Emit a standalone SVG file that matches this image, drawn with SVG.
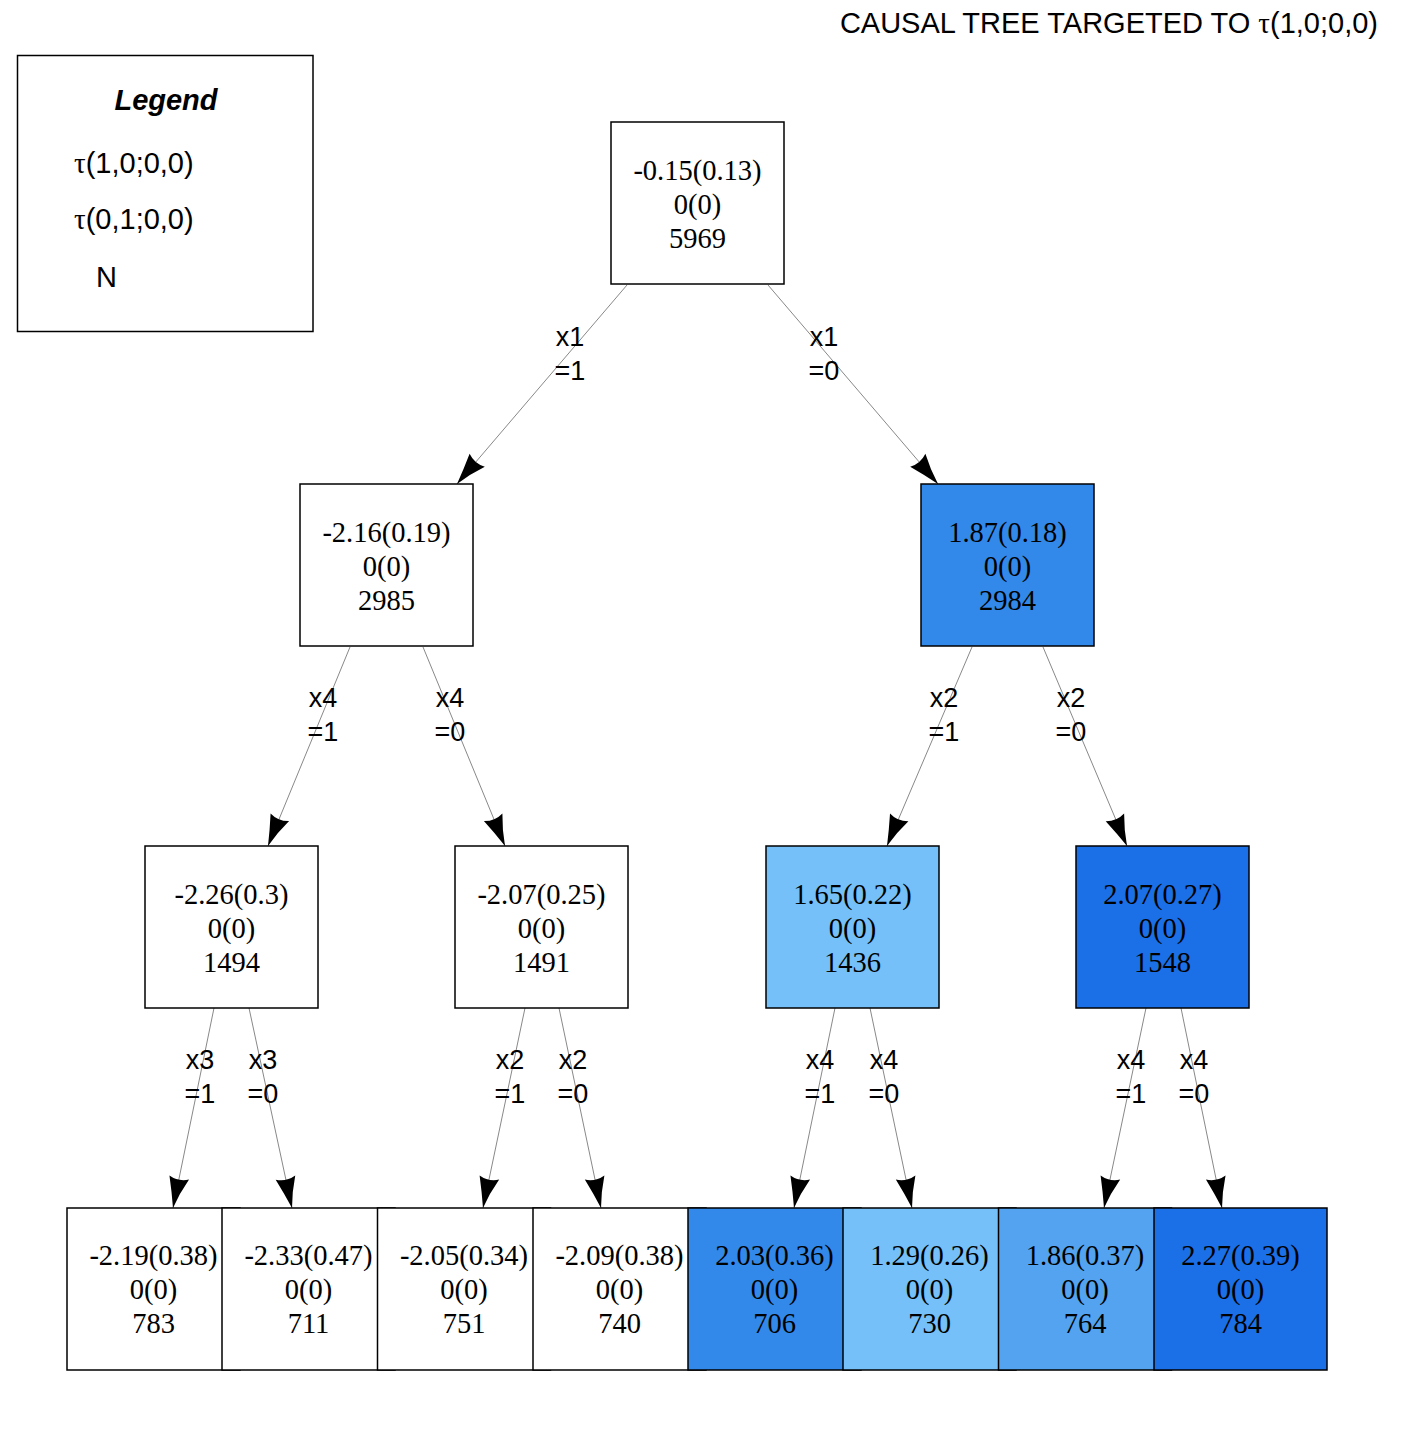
<svg xmlns="http://www.w3.org/2000/svg" width="1402" height="1445" viewBox="0 0 1402 1445">
  <style>
    .box { stroke: #000; stroke-width: 1.5; }
    .w { fill: #ffffff; }
    .b1 { fill: #3289ea; }
    .b2 { fill: #75c0f8; }
    .b3 { fill: #1b6fe7; }
    .b4 { fill: #53a3f0; }
    .nt { font-family: "Liberation Serif", "Times New Roman", serif; font-size: 28.5px; fill: #000; text-anchor: middle; }
    .el { font-family: "Liberation Sans", Arial, sans-serif; font-size: 27px; fill: #000; text-anchor: middle; }
    .edge { stroke: #7a7a7a; stroke-width: 0.9; fill: none; marker-end: url(#arr); }
    .sans { font-family: "Liberation Sans", Arial, sans-serif; font-size: 29px; fill: #000; }
    .tau { font-family: "Liberation Serif", "Times New Roman", serif; }
  </style>
  <defs>
    <marker id="arr" markerUnits="userSpaceOnUse" markerWidth="40" markerHeight="40" viewBox="-32 -16 36 32" refX="0" refY="0" orient="auto">
      <path d="M0,0 Q-14,-3 -28,-9 Q-24,0 -28,9 Q-14,4 0,0 Z" fill="#000"/>
    </marker>
  </defs>

  <rect width="1402" height="1445" fill="#fff"/>

  <!-- title -->
  <text class="sans" x="1378" y="33" text-anchor="end">CAUSAL TREE TARGETED TO <tspan class="tau">τ</tspan>(1,0;0,0)</text>

  <!-- legend -->
  <g id="legend">
    <rect x="17.5" y="55.5" width="295.5" height="276" fill="#fff" stroke="#000" stroke-width="1.5"/>
    <text class="sans" x="166" y="110" text-anchor="middle" font-weight="bold" font-style="italic" font-size="28">Legend</text>
    <text class="sans" x="74" y="173"><tspan class="tau">τ</tspan>(1,0;0,0)</text>
    <text class="sans" x="74" y="229"><tspan class="tau">τ</tspan>(0,1;0,0)</text>
    <text class="sans" x="96" y="287">N</text>
  </g>

  <!-- connectors -->
  <g id="edges">
    <line class="edge" x1="627" y1="285" x2="457" y2="484"/>
    <line class="edge" x1="768" y1="285" x2="938" y2="484"/>
    <line class="edge" x1="350" y1="647" x2="268" y2="846"/>
    <line class="edge" x1="423" y1="647" x2="505" y2="846"/>
    <line class="edge" x1="972" y1="647" x2="887" y2="846"/>
    <line class="edge" x1="1043" y1="647" x2="1127" y2="846"/>
    <line class="edge" x1="214" y1="1008" x2="173" y2="1208"/>
    <line class="edge" x1="249" y1="1008" x2="292" y2="1208"/>
    <line class="edge" x1="525" y1="1008" x2="483" y2="1208"/>
    <line class="edge" x1="559" y1="1008" x2="601" y2="1208"/>
    <line class="edge" x1="835" y1="1008" x2="794" y2="1208"/>
    <line class="edge" x1="870" y1="1008" x2="912" y2="1208"/>
    <line class="edge" x1="1146" y1="1008" x2="1104" y2="1208"/>
    <line class="edge" x1="1181" y1="1008" x2="1222" y2="1208"/>

    <text class="el" x="570" y="346">x1</text><text class="el" x="570" y="380">=1</text>
    <text class="el" x="824" y="346">x1</text><text class="el" x="824" y="380">=0</text>
    <text class="el" x="323" y="707">x4</text><text class="el" x="323" y="741">=1</text>
    <text class="el" x="450" y="707">x4</text><text class="el" x="450" y="741">=0</text>
    <text class="el" x="944" y="707">x2</text><text class="el" x="944" y="741">=1</text>
    <text class="el" x="1071" y="707">x2</text><text class="el" x="1071" y="741">=0</text>
    <text class="el" x="200" y="1069">x3</text><text class="el" x="200" y="1103">=1</text>
    <text class="el" x="263" y="1069">x3</text><text class="el" x="263" y="1103">=0</text>
    <text class="el" x="510" y="1069">x2</text><text class="el" x="510" y="1103">=1</text>
    <text class="el" x="573" y="1069">x2</text><text class="el" x="573" y="1103">=0</text>
    <text class="el" x="820" y="1069">x4</text><text class="el" x="820" y="1103">=1</text>
    <text class="el" x="884" y="1069">x4</text><text class="el" x="884" y="1103">=0</text>
    <text class="el" x="1131" y="1069">x4</text><text class="el" x="1131" y="1103">=1</text>
    <text class="el" x="1194" y="1069">x4</text><text class="el" x="1194" y="1103">=0</text>
  </g>

  <!-- level 0 -->
  <g id="n0">
    <rect class="box w" x="611" y="122" width="173" height="162"/>
    <text class="nt" x="697.5" y="180">-0.15(0.13)</text>
    <text class="nt" x="697.5" y="214">0(0)</text>
    <text class="nt" x="697.5" y="248">5969</text>
  </g>

  <!-- level 1 -->
  <g id="n1">
    <rect class="box w" x="300" y="484" width="173" height="162"/>
    <text class="nt" x="386.5" y="542">-2.16(0.19)</text>
    <text class="nt" x="386.5" y="576">0(0)</text>
    <text class="nt" x="386.5" y="610">2985</text>
  </g>
  <g id="n2">
    <rect class="box b1" x="921" y="484" width="173" height="162"/>
    <text class="nt" x="1007.5" y="542">1.87(0.18)</text>
    <text class="nt" x="1007.5" y="576">0(0)</text>
    <text class="nt" x="1007.5" y="610">2984</text>
  </g>

  <!-- level 2 -->
  <g id="n3">
    <rect class="box w" x="145" y="846" width="173" height="162"/>
    <text class="nt" x="231.5" y="904">-2.26(0.3)</text>
    <text class="nt" x="231.5" y="938">0(0)</text>
    <text class="nt" x="231.5" y="972">1494</text>
  </g>
  <g id="n4">
    <rect class="box w" x="455" y="846" width="173" height="162"/>
    <text class="nt" x="541.5" y="904">-2.07(0.25)</text>
    <text class="nt" x="541.5" y="938">0(0)</text>
    <text class="nt" x="541.5" y="972">1491</text>
  </g>
  <g id="n5">
    <rect class="box b2" x="766" y="846" width="173" height="162"/>
    <text class="nt" x="852.5" y="904">1.65(0.22)</text>
    <text class="nt" x="852.5" y="938">0(0)</text>
    <text class="nt" x="852.5" y="972">1436</text>
  </g>
  <g id="n6">
    <rect class="box b3" x="1076" y="846" width="173" height="162"/>
    <text class="nt" x="1162.5" y="904">2.07(0.27)</text>
    <text class="nt" x="1162.5" y="938">0(0)</text>
    <text class="nt" x="1162.5" y="972">1548</text>
  </g>

  <!-- leaves (drawn left to right, each overlapping the previous) -->
  <g id="n7">
    <rect class="box w" x="67" y="1208" width="173" height="162"/>
    <text class="nt" x="153.5" y="1265">-2.19(0.38)</text>
    <text class="nt" x="153.5" y="1299">0(0)</text>
    <text class="nt" x="153.5" y="1333">783</text>
  </g>
  <g id="n8">
    <rect class="box w" x="222" y="1208" width="173" height="162"/>
    <text class="nt" x="308.5" y="1265">-2.33(0.47)</text>
    <text class="nt" x="308.5" y="1299">0(0)</text>
    <text class="nt" x="308.5" y="1333">711</text>
  </g>
  <g id="n9">
    <rect class="box w" x="377.5" y="1208" width="173" height="162"/>
    <text class="nt" x="464" y="1265">-2.05(0.34)</text>
    <text class="nt" x="464" y="1299">0(0)</text>
    <text class="nt" x="464" y="1333">751</text>
  </g>
  <g id="n10">
    <rect class="box w" x="533" y="1208" width="173" height="162"/>
    <text class="nt" x="619.5" y="1265">-2.09(0.38)</text>
    <text class="nt" x="619.5" y="1299">0(0)</text>
    <text class="nt" x="619.5" y="1333">740</text>
  </g>
  <g id="n11">
    <rect class="box b1" x="688" y="1208" width="173" height="162"/>
    <text class="nt" x="774.5" y="1265">2.03(0.36)</text>
    <text class="nt" x="774.5" y="1299">0(0)</text>
    <text class="nt" x="774.5" y="1333">706</text>
  </g>
  <g id="n12">
    <rect class="box b2" x="843" y="1208" width="173" height="162"/>
    <text class="nt" x="929.5" y="1265">1.29(0.26)</text>
    <text class="nt" x="929.5" y="1299">0(0)</text>
    <text class="nt" x="929.5" y="1333">730</text>
  </g>
  <g id="n13">
    <rect class="box b4" x="998.5" y="1208" width="173" height="162"/>
    <text class="nt" x="1085" y="1265">1.86(0.37)</text>
    <text class="nt" x="1085" y="1299">0(0)</text>
    <text class="nt" x="1085" y="1333">764</text>
  </g>
  <g id="n14">
    <rect class="box b3" x="1154" y="1208" width="173" height="162"/>
    <text class="nt" x="1240.5" y="1265">2.27(0.39)</text>
    <text class="nt" x="1240.5" y="1299">0(0)</text>
    <text class="nt" x="1240.5" y="1333">784</text>
  </g>
</svg>
